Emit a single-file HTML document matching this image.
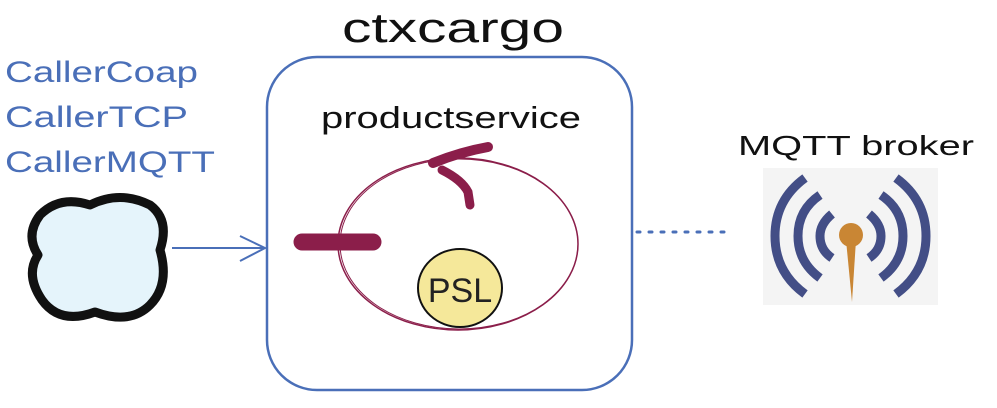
<!DOCTYPE html>
<html><head><style>
html,body{margin:0;padding:0;background:#fff;width:997px;height:408px;overflow:hidden}
</style></head><body>
<svg width="997" height="408" viewBox="0 0 997 408" xmlns="http://www.w3.org/2000/svg">
<g font-family="Liberation Sans, sans-serif">
<text x="342" y="42" font-size="42" textLength="222" lengthAdjust="spacingAndGlyphs" fill="#111">ctxcargo</text>
<text x="321" y="128" font-size="31" textLength="260" lengthAdjust="spacingAndGlyphs" fill="#111">productservice</text>
<text x="738" y="155" font-size="28" textLength="236" lengthAdjust="spacingAndGlyphs" fill="#111">MQTT broker</text>
<text x="5" y="82" font-size="30" textLength="193" lengthAdjust="spacingAndGlyphs" fill="#4a6fb8">CallerCoap</text>
<text x="5" y="127" font-size="30" textLength="183" lengthAdjust="spacingAndGlyphs" fill="#4a6fb8">CallerTCP</text>
<text x="5" y="172" font-size="30" textLength="210" lengthAdjust="spacingAndGlyphs" fill="#4a6fb8">CallerMQTT</text>
</g>
<rect x="267" y="57" width="365" height="333" rx="50" fill="none" stroke="#4a6fb8" stroke-width="2.5"/>
<path d="M40 215 Q60 195 90 205 Q120 190 150 205 Q170 220 160 250 Q170 285 150 305 Q130 325 95 312 Q60 325 42 300 Q25 275 38 255 Q25 235 40 215Z" fill="#e5f4fb" stroke="#111" stroke-width="9" stroke-linejoin="round"/>
<line x1="172" y1="248" x2="264" y2="248" stroke="#4a6fb8" stroke-width="2"/>
<path d="M240 236 L265 248 L240 261" fill="none" stroke="#4a6fb8" stroke-width="2"/>
<line x1="637" y1="232" x2="730" y2="232" stroke="#4a6fb8" stroke-width="3" stroke-dasharray="3 9" stroke-linecap="round"/>
<ellipse cx="458" cy="244" rx="120" ry="86" fill="none" stroke="#8b1e4a" stroke-width="1.5"/>
<ellipse cx="459" cy="244" rx="119" ry="85" fill="none" stroke="#8b1e4a" stroke-width="1"/>
<ellipse cx="460" cy="288" rx="42" ry="39" fill="#f5e89a" stroke="#111" stroke-width="2"/>
<text x="460" y="302" font-family="Liberation Sans, sans-serif" font-size="34" text-anchor="middle" fill="#222">PSL</text>
<line x1="302" y1="242" x2="373" y2="242" stroke="#8b1e4a" stroke-width="17" stroke-linecap="round"/>
<path d="M433 163 Q460 152 488 147" fill="none" stroke="#8b1e4a" stroke-width="10" stroke-linecap="round"/>
<path d="M442 170 Q462 180 468 192 L470 205" fill="none" stroke="#8b1e4a" stroke-width="9" stroke-linecap="round"/>
<rect x="763" y="168" width="175" height="137" fill="#f4f4f4"/>
<g fill="none" stroke="#434e86" stroke-width="9">
<path d="M820 195 Q798 210 798 236 Q798 262 820 278"/>
<path d="M805 178 Q775 200 775 236 Q775 272 805 294"/>
<path d="M832 214 Q820 224 820 236 Q820 250 832 258"/>
<path d="M881 195 Q903 210 903 236 Q903 262 881 278"/>
<path d="M896 178 Q926 200 926 236 Q926 272 896 294"/>
<path d="M869 214 Q881 224 881 236 Q881 250 869 258"/>
</g>
<circle cx="851" cy="235" r="12" fill="#c98634"/>
<path d="M846 240 L856 240 L852 302 Z" fill="#c98634"/>
</svg>
</body></html>
